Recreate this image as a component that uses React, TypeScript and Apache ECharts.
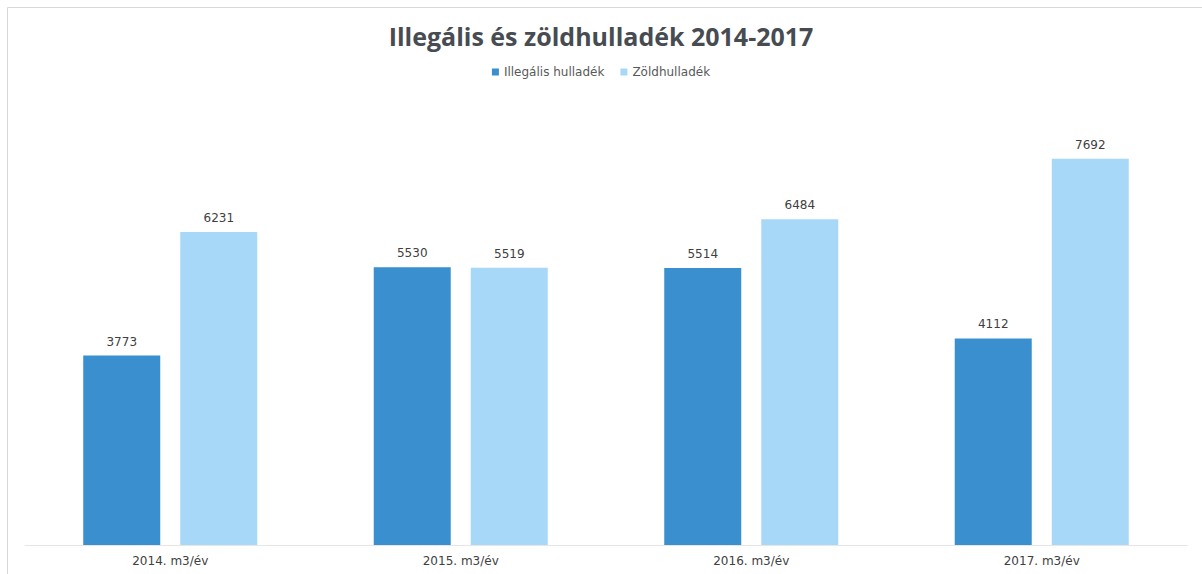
import React, { useEffect, useRef } from "react";
import * as echarts from "echarts";

const categories = ["2014. m3/év", "2015. m3/év", "2016. m3/év", "2017. m3/év"];
const illegalis = [3773, 5530, 5514, 4112];
const zold = [6231, 5519, 6484, 7692];
const seriesNames = ["Illegális hulladék", "Zöldhulladék"];

export default function App() {
  const ref = useRef<HTMLDivElement>(null);
  useEffect(() => {
    document.body.style.margin = "0";
    const chart = echarts.init(ref.current!, null, { renderer: "svg" });
    const titleFont = "'Open Sans', 'Noto Sans', sans-serif";
    const font = "'DejaVu Sans', sans-serif";
    chart.setOption({
      animation: false,
      backgroundColor: "#ffffff",
      textStyle: { fontFamily: font },
      title: {
        text: "Illegális és zöldhulladék 2014-2017",
        left: "center",
        top: 18,
        textStyle: { fontFamily: titleFont, fontSize: 25, fontWeight: "bold", color: "#474c52" },
      },
      legend: {
        data: seriesNames,
        top: 61,
        left: "center",
        itemWidth: 7,
        itemHeight: 7,
        itemGap: 16,
        icon: "rect",
        textStyle: { fontFamily: font, fontSize: 12, color: "#595959" },
      },
      graphic: [
        {
          type: "rect",
          shape: { x: 7.5, y: 7.5, width: 1300, height: 700 },
          style: { fill: "none", stroke: "#d8d8d8", lineWidth: 1 },
          silent: true,
        },
      ],
      grid: { left: 25, right: 15, top: 93, bottom: 29, containLabel: false },
      xAxis: {
        type: "category",
        data: categories,
        axisLine: { show: true, lineStyle: { color: "#e6e6e6" } },
        axisTick: { show: false },
        axisLabel: { fontFamily: font, fontSize: 12, color: "#404040", margin: 10 },
      },
      yAxis: {
        type: "value",
        min: 0,
        max: 9000,
        show: false,
        splitLine: { show: false },
      },
      series: [
        {
          name: seriesNames[0],
          type: "bar",
          data: illegalis,
          barWidth: 77,
          barGap: "26%",
          itemStyle: { color: "#3a8fcf" },
          label: { show: true, position: "top", distance: 8, fontFamily: font, fontSize: 12, color: "#404040" },
        },
        {
          name: seriesNames[1],
          type: "bar",
          data: zold,
          barWidth: 77,
          itemStyle: { color: "#a8d8f8" },
          label: { show: true, position: "top", distance: 8, fontFamily: font, fontSize: 12, color: "#404040" },
        },
      ],
    });
    return () => chart.dispose();
  }, []);
  return <div ref={ref} style={{ width: 1202, height: 574 }} />;
}
